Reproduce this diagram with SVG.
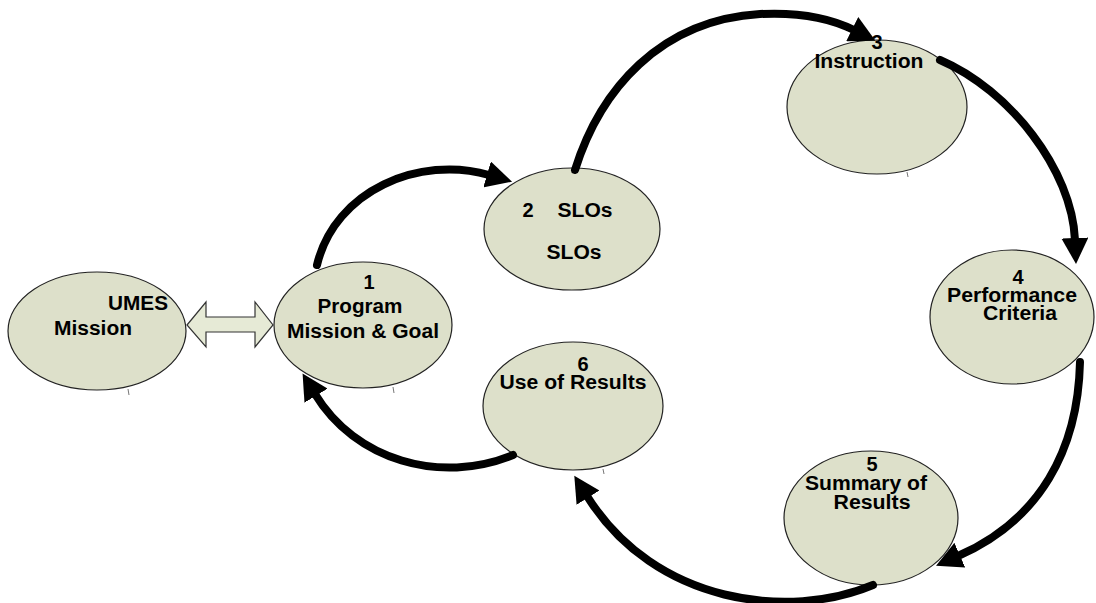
<svg xmlns="http://www.w3.org/2000/svg" width="1096" height="603" viewBox="0 0 1096 603">
<style>
.node{fill:#dde0ca;stroke:#222;stroke-width:1.2}
.lbl{font-family:"Liberation Sans",Arial,sans-serif;font-weight:bold;font-size:20px;fill:#000;text-anchor:middle}
.tick{stroke:#777;stroke-width:1}
.conn{fill:none;stroke:#000;stroke-width:8;stroke-linecap:round}
</style>
<defs>
<marker id="ah" markerUnits="userSpaceOnUse" markerWidth="27" markerHeight="27" refX="2" refY="13.5" orient="auto">
<path d="M0,0 L26,13.5 L0,27 z" fill="#000"/>
</marker>
</defs>
<rect width="1096" height="603" fill="#fff"/>
<g id="umes">
<ellipse class="node" cx="97" cy="331" rx="89" ry="59"/>
<line class="tick" x1="128" y1="389" x2="129" y2="395"/>
<text class="lbl" x="138" y="310" textLength="60" lengthAdjust="spacingAndGlyphs">UMES</text>
<text class="lbl" x="93" y="335" textLength="78" lengthAdjust="spacingAndGlyphs">Mission</text>
</g>
<g id="program">
<ellipse class="node" cx="363" cy="325" rx="89" ry="63"/>
<line class="tick" x1="393" y1="387" x2="394" y2="393"/>
<text class="lbl" x="369" y="289">1</text>
<text class="lbl" x="360" y="313" textLength="85" lengthAdjust="spacingAndGlyphs">Program</text>
<text class="lbl" x="363" y="338" textLength="152" lengthAdjust="spacingAndGlyphs">Mission &amp; Goal</text>
</g>
<g id="slos">
<ellipse class="node" cx="572" cy="229" rx="88" ry="61"/>
<text class="lbl" x="528" y="217">2</text>
<text class="lbl" x="585" y="217" textLength="55" lengthAdjust="spacingAndGlyphs">SLOs</text>
<text class="lbl" x="574" y="259" textLength="55" lengthAdjust="spacingAndGlyphs">SLOs</text>
</g>
<g id="instruction">
<ellipse class="node" cx="877" cy="107" rx="90" ry="67"/>
<line class="tick" x1="907" y1="172" x2="908" y2="177"/>
<text class="lbl" x="877" y="49">3</text>
<text class="lbl" x="869" y="68" textLength="109" lengthAdjust="spacingAndGlyphs">Instruction</text>
</g>
<g id="performance">
<ellipse class="node" cx="1012" cy="317" rx="82" ry="67"/>
<text class="lbl" x="1018" y="284">4</text>
<text class="lbl" x="1012" y="302" textLength="130" lengthAdjust="spacingAndGlyphs">Performance</text>
<text class="lbl" x="1020" y="320" textLength="74" lengthAdjust="spacingAndGlyphs">Criteria</text>
</g>
<g id="summary">
<ellipse class="node" cx="871" cy="518" rx="87" ry="67"/>
<text class="lbl" x="872" y="471">5</text>
<text class="lbl" x="866" y="490" textLength="122" lengthAdjust="spacingAndGlyphs">Summary of</text>
<text class="lbl" x="872" y="509" textLength="77" lengthAdjust="spacingAndGlyphs">Results</text>
</g>
<g id="use">
<ellipse class="node" cx="573" cy="406" rx="90" ry="64"/>
<line class="tick" x1="603" y1="469" x2="604" y2="474"/>
<text class="lbl" x="583" y="371">6</text>
<text class="lbl" x="573" y="389" textLength="147" lengthAdjust="spacingAndGlyphs">Use of Results</text>
</g>
<g id="connectors">
<polygon points="187,325 206,302 206,317 255,317 255,302 273,325 255,347 255,332 206,332 206,347" fill="#e6ead6" stroke="#333" stroke-width="1.2"/>
<path class="conn" d="M317,265 C335,190 420,155 489,175" marker-end="url(#ah)"/>
<path class="conn" d="M575,170 C600,90 660,20 760,14 C800,12 830,18 854,30" marker-end="url(#ah)"/>
<path class="conn" d="M940,60 C1010,90 1072,170 1075,240" marker-end="url(#ah)"/>
<path class="conn" d="M1080,362 C1078,450 1040,520 958,556" marker-end="url(#ah)"/>
<path class="conn" d="M873,585 C790,620 655,605 587,496" marker-end="url(#ah)"/>
<path class="conn" d="M513,455 C440,485 355,460 315,394" marker-end="url(#ah)"/>
</g>
</svg>
